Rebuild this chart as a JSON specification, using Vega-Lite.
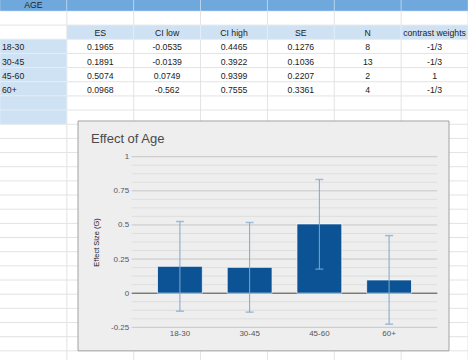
{
  "$schema": "https://vega.github.io/schema/vega-lite/v6.json",
  "width": 305.6,
  "height": 170.6,
  "autosize": {"type": "none"},
  "padding": {"left": 131.7, "top": 156.7, "right": 30.7, "bottom": 32.7},
  "background": "#ffffff",
  "config": {"view": {"stroke": null}, "font": "Liberation Sans"},
  "title": {
    "text": "Effect of Age",
    "anchor": "start",
    "frame": "group",
    "fontSize": 13,
    "fontWeight": "normal",
    "color": "#4a4a4a",
    "font": "Liberation Sans",
    "offset": 0,
    "dx": -40.7,
    "dy": 150
  },
  "datasets": {
    "cols": [{"c": "A"}, {"c": "B"}, {"c": "C"}, {"c": "D"}, {"c": "E"}, {"c": "F"}, {"c": "G"}],
    "rows": [
      {"r": "r0"}, {"r": "r1"}, {"r": "r2"}, {"r": "r3"}, {"r": "r4"}, {"r": "r5"}, {"r": "r6"},
      {"r": "r7"}, {"r": "r8"}, {"r": "r9"}, {"r": "r10"}, {"r": "r11"}, {"r": "r12"}, {"r": "r13"},
      {"r": "r14"}, {"r": "r15"}, {"r": "r16"}, {"r": "r17"}, {"r": "r18"}, {"r": "r19"}, {"r": "r20"},
      {"r": "r21"}, {"r": "r22"}, {"r": "r23"}, {"r": "r24"}, {"r": "r25"}
    ],
    "cells": [
      {"r": "r0", "c": "A", "text": "AGE", "role": "title"},
      {"r": "r0", "c": "B", "text": "", "role": "title"},
      {"r": "r0", "c": "C", "text": "", "role": "title"},
      {"r": "r0", "c": "D", "text": "", "role": "title"},
      {"r": "r0", "c": "E", "text": "", "role": "title"},
      {"r": "r0", "c": "F", "text": "", "role": "title"},
      {"r": "r0", "c": "G", "text": "", "role": "title"},
      {"r": "r2", "c": "B", "text": "ES", "role": "header"},
      {"r": "r2", "c": "C", "text": "CI low", "role": "header"},
      {"r": "r2", "c": "D", "text": "CI high", "role": "header"},
      {"r": "r2", "c": "E", "text": "SE", "role": "header"},
      {"r": "r2", "c": "F", "text": "N", "role": "header"},
      {"r": "r2", "c": "G", "text": "contrast weights", "role": "header"},
      {"r": "r3", "c": "A", "text": "18-30", "role": "label"},
      {"r": "r3", "c": "B", "text": "0.1965", "role": "value"},
      {"r": "r3", "c": "C", "text": "-0.0535", "role": "value"},
      {"r": "r3", "c": "D", "text": "0.4465", "role": "value"},
      {"r": "r3", "c": "E", "text": "0.1276", "role": "value"},
      {"r": "r3", "c": "F", "text": "8", "role": "value"},
      {"r": "r3", "c": "G", "text": "-1/3", "role": "value"},
      {"r": "r4", "c": "A", "text": "30-45", "role": "label"},
      {"r": "r4", "c": "B", "text": "0.1891", "role": "value"},
      {"r": "r4", "c": "C", "text": "-0.0139", "role": "value"},
      {"r": "r4", "c": "D", "text": "0.3922", "role": "value"},
      {"r": "r4", "c": "E", "text": "0.1036", "role": "value"},
      {"r": "r4", "c": "F", "text": "13", "role": "value"},
      {"r": "r4", "c": "G", "text": "-1/3", "role": "value"},
      {"r": "r5", "c": "A", "text": "45-60", "role": "label"},
      {"r": "r5", "c": "B", "text": "0.5074", "role": "value"},
      {"r": "r5", "c": "C", "text": "0.0749", "role": "value"},
      {"r": "r5", "c": "D", "text": "0.9399", "role": "value"},
      {"r": "r5", "c": "E", "text": "0.2207", "role": "value"},
      {"r": "r5", "c": "F", "text": "2", "role": "value"},
      {"r": "r5", "c": "G", "text": "1", "role": "value"},
      {"r": "r6", "c": "A", "text": "60+", "role": "label"},
      {"r": "r6", "c": "B", "text": "0.0968", "role": "value"},
      {"r": "r6", "c": "C", "text": "-0.562", "role": "value"},
      {"r": "r6", "c": "D", "text": "0.7555", "role": "value"},
      {"r": "r6", "c": "E", "text": "0.3361", "role": "value"},
      {"r": "r6", "c": "F", "text": "4", "role": "value"},
      {"r": "r6", "c": "G", "text": "-1/3", "role": "value"},
      {"r": "r7", "c": "A", "text": "", "role": "label"},
      {"r": "r8", "c": "A", "text": "", "role": "label"}
    ],
    "effects": [
      {"age": "18-30", "es": 0.1965, "lo": -0.132, "hi": 0.525},
      {"age": "30-45", "es": 0.1891, "lo": -0.139, "hi": 0.518},
      {"age": "45-60", "es": 0.5074, "lo": 0.176, "hi": 0.833},
      {"age": "60+", "es": 0.0968, "lo": -0.227, "hi": 0.422}
    ],
    "majorGrid": [{"v": -0.25}, {"v": 0.25}, {"v": 0.5}, {"v": 0.75}, {"v": 1}],
    "minorGrid": [
      {"v": -0.1875}, {"v": -0.125}, {"v": -0.0625}, {"v": 0.0625}, {"v": 0.125}, {"v": 0.1875},
      {"v": 0.3125}, {"v": 0.375}, {"v": 0.4375}, {"v": 0.5625}, {"v": 0.625}, {"v": 0.6875},
      {"v": 0.8125}, {"v": 0.875}, {"v": 0.9375}
    ]
  },
  "layer": [
    {
      "layer": [
        {
          "data": {"name": "cols"},
          "mark": {"type": "rule", "color": "#e2e3e3", "strokeWidth": 1},
          "encoding": {
            "x": {"field": "c", "type": "nominal", "bandPosition": 1, "axis": null,
                  "scale": {"domain": ["A", "B", "C", "D", "E", "F", "G"], "range": [-131.7, 336.3], "paddingInner": 0, "paddingOuter": 0}},
            "y": {"datum": "r0", "type": "nominal", "bandPosition": 0, "axis": null,
                  "scale": {"domain": ["r0","r1","r2","r3","r4","r5","r6","r7","r8","r9","r10","r11","r12","r13","r14","r15","r16","r17","r18","r19","r20","r21","r22","r23","r24","r25"], "range": [-159.9, 208.3], "paddingInner": 0, "paddingOuter": 0}},
            "y2": {"datum": "r25", "bandPosition": 1}
          }
        },
        {
          "data": {"name": "rows"},
          "mark": {"type": "rule", "color": "#e2e3e3", "strokeWidth": 1},
          "encoding": {
            "x": {"datum": "A", "type": "nominal", "bandPosition": 0, "axis": null,
                  "scale": {"domain": ["A", "B", "C", "D", "E", "F", "G"], "range": [-131.7, 336.3], "paddingInner": 0, "paddingOuter": 0}},
            "x2": {"datum": "G", "bandPosition": 1},
            "y": {"field": "r", "type": "nominal", "bandPosition": 1, "axis": null,
                  "scale": {"domain": ["r0","r1","r2","r3","r4","r5","r6","r7","r8","r9","r10","r11","r12","r13","r14","r15","r16","r17","r18","r19","r20","r21","r22","r23","r24","r25"], "range": [-159.9, 208.3], "paddingInner": 0, "paddingOuter": 0}}
          }
        },
        {
          "data": {"name": "cells"},
          "transform": [{"filter": "datum.role != 'value'"}],
          "mark": {"type": "rect", "stroke": "#ffffff", "strokeOpacity": 0.3, "strokeWidth": 1},
          "encoding": {
            "x": {"field": "c", "type": "nominal", "axis": null,
                  "scale": {"domain": ["A", "B", "C", "D", "E", "F", "G"], "range": [-131.7, 336.3], "paddingInner": 0, "paddingOuter": 0}},
            "y": {"field": "r", "type": "nominal", "axis": null,
                  "scale": {"domain": ["r0","r1","r2","r3","r4","r5","r6","r7","r8","r9","r10","r11","r12","r13","r14","r15","r16","r17","r18","r19","r20","r21","r22","r23","r24","r25"], "range": [-159.9, 208.3], "paddingInner": 0, "paddingOuter": 0}},
            "color": {"field": "role", "type": "nominal", "legend": null,
                      "scale": {"domain": ["title", "header", "label"], "range": ["#6fa8dc", "#cfe2f3", "#cfe2f3"]}}
          }
        },
        {
          "data": {"name": "cells"},
          "transform": [{"filter": "datum.text != '' && datum.role != 'label'"}],
          "mark": {"type": "text", "fontSize": 8.7, "color": "#222222", "baseline": "middle", "align": "center", "dy": 1, "font": "Liberation Sans"},
          "encoding": {
            "x": {"field": "c", "type": "nominal", "axis": null,
                  "scale": {"domain": ["A", "B", "C", "D", "E", "F", "G"], "range": [-131.7, 336.3], "paddingInner": 0, "paddingOuter": 0}},
            "y": {"field": "r", "type": "nominal", "axis": null,
                  "scale": {"domain": ["r0","r1","r2","r3","r4","r5","r6","r7","r8","r9","r10","r11","r12","r13","r14","r15","r16","r17","r18","r19","r20","r21","r22","r23","r24","r25"], "range": [-159.9, 208.3], "paddingInner": 0, "paddingOuter": 0}},
            "text": {"field": "text"}
          }
        },
        {
          "data": {"name": "cells"},
          "transform": [{"filter": "datum.text != '' && datum.role == 'label'"}],
          "mark": {"type": "text", "fontSize": 8.7, "color": "#222222", "baseline": "middle", "align": "left", "dx": 2, "dy": 1, "font": "Liberation Sans"},
          "encoding": {
            "x": {"field": "c", "type": "nominal", "bandPosition": 0, "axis": null,
                  "scale": {"domain": ["A", "B", "C", "D", "E", "F", "G"], "range": [-131.7, 336.3], "paddingInner": 0, "paddingOuter": 0}},
            "y": {"field": "r", "type": "nominal", "axis": null,
                  "scale": {"domain": ["r0","r1","r2","r3","r4","r5","r6","r7","r8","r9","r10","r11","r12","r13","r14","r15","r16","r17","r18","r19","r20","r21","r22","r23","r24","r25"], "range": [-159.9, 208.3], "paddingInner": 0, "paddingOuter": 0}},
            "text": {"field": "text"}
          }
        },
        {
          "data": {"values": [{}]},
          "mark": {"type": "rect", "fill": "#eeeeee", "stroke": "#a3a3a3", "strokeWidth": 1},
          "encoding": {
            "x": {"datum": "B", "type": "nominal", "bandPosition": 0.167, "axis": null,
                  "scale": {"domain": ["A", "B", "C", "D", "E", "F", "G"], "range": [-131.7, 336.3], "paddingInner": 0, "paddingOuter": 0}},
            "x2": {"datum": "G", "bandPosition": 0.716},
            "y": {"datum": "r8", "type": "nominal", "bandPosition": 0.77, "axis": null,
                  "scale": {"domain": ["r0","r1","r2","r3","r4","r5","r6","r7","r8","r9","r10","r11","r12","r13","r14","r15","r16","r17","r18","r19","r20","r21","r22","r23","r24","r25"], "range": [-159.9, 208.3], "paddingInner": 0, "paddingOuter": 0}},
            "y2": {"datum": "r25", "bandPosition": 0}
          }
        }
      ]
    },
    {
      "data": {"name": "minorGrid"},
      "mark": {"type": "rule", "color": "#dedede", "strokeWidth": 1},
      "encoding": {
        "y": {"field": "v", "type": "quantitative", "axis": null,
              "scale": {"domain": [-0.25, 1], "nice": false, "zero": false}}
      }
    },
    {
      "data": {"name": "majorGrid"},
      "mark": {"type": "rule", "color": "#c6c6c6", "strokeWidth": 1},
      "encoding": {
        "y": {"field": "v", "type": "quantitative", "axis": null,
              "scale": {"domain": [-0.25, 1], "nice": false, "zero": false}}
      }
    },
    {
      "data": {"values": [{}]},
      "mark": {"type": "rule", "color": "#444444", "strokeWidth": 1},
      "encoding": {
        "y": {"datum": 0, "type": "quantitative", "axis": null,
              "scale": {"domain": [-0.25, 1], "nice": false, "zero": false}}
      }
    },
    {
      "data": {"name": "effects"},
      "mark": {"type": "bar", "color": "#0b5394", "stroke": "#ffffff", "strokeOpacity": 0.7, "strokeWidth": 1},
      "encoding": {
        "x": {"field": "age", "type": "nominal",
              "scale": {"domain": ["18-30", "30-45", "45-60", "60+"], "paddingInner": 0.357, "paddingOuter": 0.37},
              "axis": {"orient": "bottom", "title": null, "domain": false, "ticks": false, "grid": false,
                       "labelPadding": 2.5, "labelFontSize": 8, "labelColor": "#555555", "labelFont": "Liberation Sans", "labelAngle": 0, "zindex": 1}},
        "y": {"field": "es", "type": "quantitative",
              "scale": {"domain": [-0.25, 1], "nice": false, "zero": false},
              "axis": {"orient": "left", "title": "Effect Size (G)", "domain": false, "ticks": false, "grid": false,
                       "values": [-0.25, 0, 0.25, 0.5, 0.75, 1],
                       "labelExpr": "datum.value < 0 ? '-' + format(-datum.value, '~g') : format(datum.value, '~g')",
                       "labelPadding": 3, "labelFontSize": 8, "labelColor": "#555555", "labelFont": "Liberation Sans",
                       "titleFontSize": 7.5, "titleFontWeight": "normal", "titleColor": "#222222", "titleFont": "Liberation Sans",
                       "titlePadding": 10, "zindex": 1}},
        "y2": {"datum": 0}
      }
    },
    {
      "data": {"name": "effects"},
      "mark": {"type": "rule", "color": "#7fa6ce", "strokeWidth": 1},
      "encoding": {
        "x": {"field": "age", "type": "nominal", "axis": null,
              "scale": {"domain": ["18-30", "30-45", "45-60", "60+"], "paddingInner": 0.357, "paddingOuter": 0.37}},
        "y": {"field": "lo", "type": "quantitative", "axis": null,
              "scale": {"domain": [-0.25, 1], "nice": false, "zero": false}},
        "y2": {"field": "hi"}
      }
    },
    {
      "data": {"name": "effects"},
      "mark": {"type": "tick", "color": "#7fa6ce", "size": 8, "thickness": 1.5, "orient": "horizontal"},
      "encoding": {
        "x": {"field": "age", "type": "nominal", "axis": null,
              "scale": {"domain": ["18-30", "30-45", "45-60", "60+"], "paddingInner": 0.357, "paddingOuter": 0.37}},
        "y": {"field": "lo", "type": "quantitative", "axis": null,
              "scale": {"domain": [-0.25, 1], "nice": false, "zero": false}}
      }
    },
    {
      "data": {"name": "effects"},
      "mark": {"type": "tick", "color": "#7fa6ce", "size": 8, "thickness": 1.5, "orient": "horizontal"},
      "encoding": {
        "x": {"field": "age", "type": "nominal", "axis": null,
              "scale": {"domain": ["18-30", "30-45", "45-60", "60+"], "paddingInner": 0.357, "paddingOuter": 0.37}},
        "y": {"field": "hi", "type": "quantitative", "axis": null,
              "scale": {"domain": [-0.25, 1], "nice": false, "zero": false}}
      }
    }
  ],
  "resolve": {
    "scale": {"x": "independent", "y": "independent", "color": "independent"},
    "axis": {"x": "independent", "y": "independent"}
  }
}
